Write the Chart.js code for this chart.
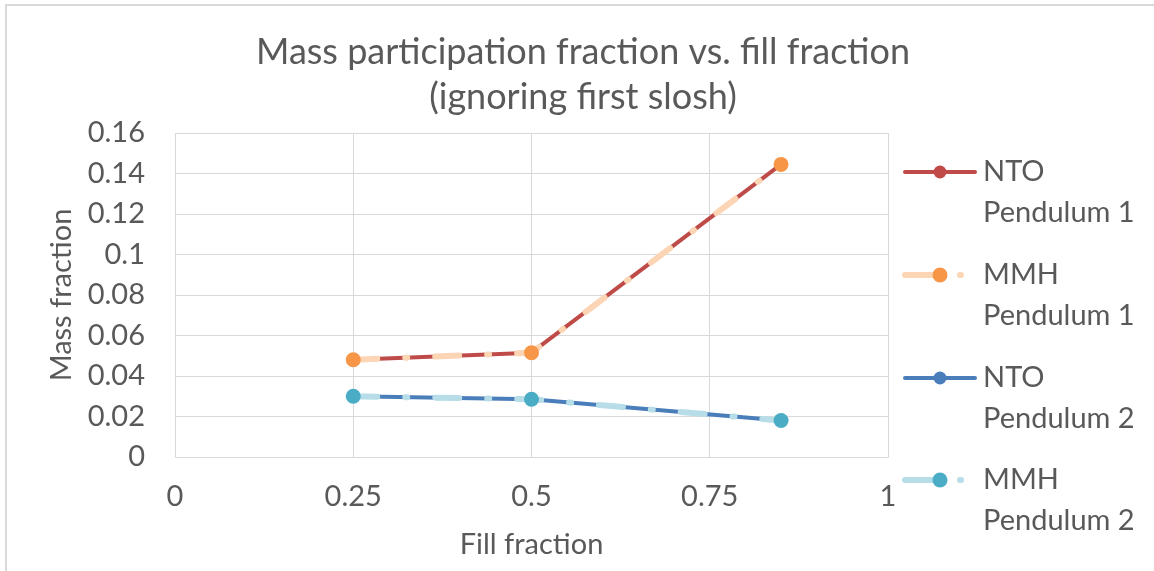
<!DOCTYPE html>
<html>
<head>
<meta charset="utf-8">
<script src="https://cdn.jsdelivr.net/npm/chart.js@4.4.1/dist/chart.umd.min.js"></script>
<style>
  html, body { margin: 0; padding: 0; background: #ffffff; overflow: hidden; }
  #frame {
    position: absolute; left: 5px; top: 4px; width: 1300px; height: 700px;
    border-left: 2px solid #d9d9d9; border-top: 2px solid #d9d9d9;
  }
  #wrap { position: absolute; left: 0; top: 0; width: 1154px; height: 571px; }
</style>
</head>
<body>
<div id="frame"></div>
<div id="wrap"><canvas id="chart" width="1154" height="571"></canvas></div>
<script>
// Fill fraction (x) for each measurement
const fillFraction = [0.25, 0.5, 0.85];

// Mass participation fraction per propellant / pendulum mode
const ntoPendulum1 = [0.048, 0.0515, 0.1445];
const mmhPendulum1 = [0.048, 0.0515, 0.1445];
const ntoPendulum2 = [0.030, 0.0285, 0.018];
const mmhPendulum2 = [0.030, 0.0285, 0.018];

// Axis ticks
const xTicks = [0, 0.25, 0.5, 0.75, 1];
const yTicks = [0, 0.02, 0.04, 0.06, 0.08, 0.1, 0.12, 0.14, 0.16];

const titleLines = ['Mass participation fraction vs. fill fraction', '(ignoring first slosh)'];

const seriesNames = [
  ['NTO', 'Pendulum 1'],
  ['MMH', 'Pendulum 1'],
  ['NTO', 'Pendulum 2'],
  ['MMH', 'Pendulum 2']
];

const FONT = 'Lato, "Open Sans", sans-serif';
const TEXT = '#595959';
const GRID = '#d9d9d9';
const DASH = [24, 28, 2, 28];

function pts(values) {
  return fillFraction.map((x, i) => ({ x: x, y: values[i] }));
}

const series = [
  { label: seriesNames[0], data: pts(ntoPendulum1), line: '#be4b48', marker: '#be4b48', width: 4, dash: [], radius: 6.5, order: 3 },
  { label: seriesNames[1], data: pts(mmhPendulum1), line: '#fcd5b5', marker: '#f79646', width: 6, dash: DASH, radius: 7.5, order: 2 },
  { label: seriesNames[2], data: pts(ntoPendulum2), line: '#4a7ebb', marker: '#4a7ebb', width: 4, dash: [], radius: 6.5, order: 1 },
  { label: seriesNames[3], data: pts(mmhPendulum2), line: '#b7dee8', marker: '#4bacc6', width: 6, dash: DASH, radius: 7.5, order: 0 }
];

// Chart title, centred across the full canvas width
const wideTitle = {
  id: 'wideTitle',
  afterDraw(chart) {
    const ctx = chart.ctx;
    ctx.save();
    ctx.fillStyle = TEXT;
    ctx.font = '36px ' + FONT;
    ctx.textAlign = 'center';
    ctx.textBaseline = 'middle';
    titleLines.forEach((t, i) => ctx.fillText(t, 583, 52 + i * 45));
    ctx.restore();
  }
};

// Legend drawn at the right of the plot: line sample with marker, two-line name
const sideLegend = {
  id: 'sideLegend',
  afterDraw(chart) {
    const ctx = chart.ctx;
    const x0 = 905, x1 = 975, mx = 940, tx = 983;
    const rows = [172, 275, 378, 480];
    ctx.save();
    series.forEach((s, i) => {
      const y = rows[i];
      ctx.strokeStyle = s.line;
      ctx.lineWidth = s.width;
      ctx.lineCap = 'round';
      ctx.setLineDash(s.dash.length ? [30, 25, 1, 100] : []);
      ctx.beginPath();
      ctx.moveTo(x0, y);
      ctx.lineTo(s.dash.length ? 965 : x1, y);
      ctx.stroke();
      ctx.setLineDash([]);
      ctx.fillStyle = s.marker;
      ctx.beginPath();
      ctx.arc(mx, y, s.radius, 0, Math.PI * 2);
      ctx.fill();
      ctx.fillStyle = TEXT;
      ctx.font = '29px ' + FONT;
      ctx.textAlign = 'left';
      ctx.textBaseline = 'middle';
      ctx.fillText(s.label[0], tx, y);
      ctx.fillText(s.label[1], tx, y + 41);
    });
    ctx.restore();
  }
};

new Chart(document.getElementById('chart'), {
  type: 'scatter',
  data: {
    datasets: series.map(s => ({
      label: s.label.join(' '),
      data: s.data,
      showLine: true,
      borderColor: s.line,
      borderWidth: s.width,
      borderDash: s.dash,
      borderCapStyle: 'round',
      borderJoinStyle: 'round',
      backgroundColor: s.marker,
      pointBackgroundColor: s.marker,
      pointBorderWidth: 0,
      pointRadius: s.radius,
      pointHoverRadius: s.radius,
      tension: 0,
      order: s.order
    }))
  },
  options: {
    responsive: false,
    animation: false,
    events: [],
    layout: { padding: { left: 38, right: 266, top: 133, bottom: 0 } },
    plugins: {
      legend: { display: false },
      tooltip: { enabled: false },
      title: { display: false }
    },
    scales: {
      x: {
        type: 'linear',
        min: 0, max: 1,
        afterBuildTicks(axis) { axis.ticks = xTicks.map(v => ({ value: v })); },
        afterFit(axis) { axis.height = 114; },
        ticks: {
          color: TEXT,
          font: { family: FONT, size: 29 },
          padding: 22,
          maxRotation: 0,
          callback: v => String(v)
        },
        grid: { color: GRID, lineWidth: 1, drawTicks: false },
        border: { color: GRID, width: 1 },
        title: {
          display: true,
          text: 'Fill fraction',
          color: TEXT,
          font: { family: FONT, size: 29, lineHeight: 1.2 },
          padding: { top: 0, bottom: 9 }
        }
      },
      y: {
        type: 'linear',
        min: 0, max: 0.16,
        afterBuildTicks(axis) { axis.ticks = yTicks.map(v => ({ value: v })); },
        afterFit(axis) { axis.width = 175 - 38; },
        ticks: {
          color: TEXT,
          font: { family: FONT, size: 29 },
          padding: 30,
          callback: v => String(v)
        },
        grid: { color: GRID, lineWidth: 1, drawTicks: false },
        border: { color: GRID, width: 1 },
        title: {
          display: true,
          text: 'Mass fraction',
          color: TEXT,
          font: { family: FONT, size: 29, lineHeight: 1.2 },
          padding: { top: 6, bottom: 0 }
        }
      }
    }
  },
  plugins: [wideTitle, sideLegend]
});
</script>
</body>
</html>
